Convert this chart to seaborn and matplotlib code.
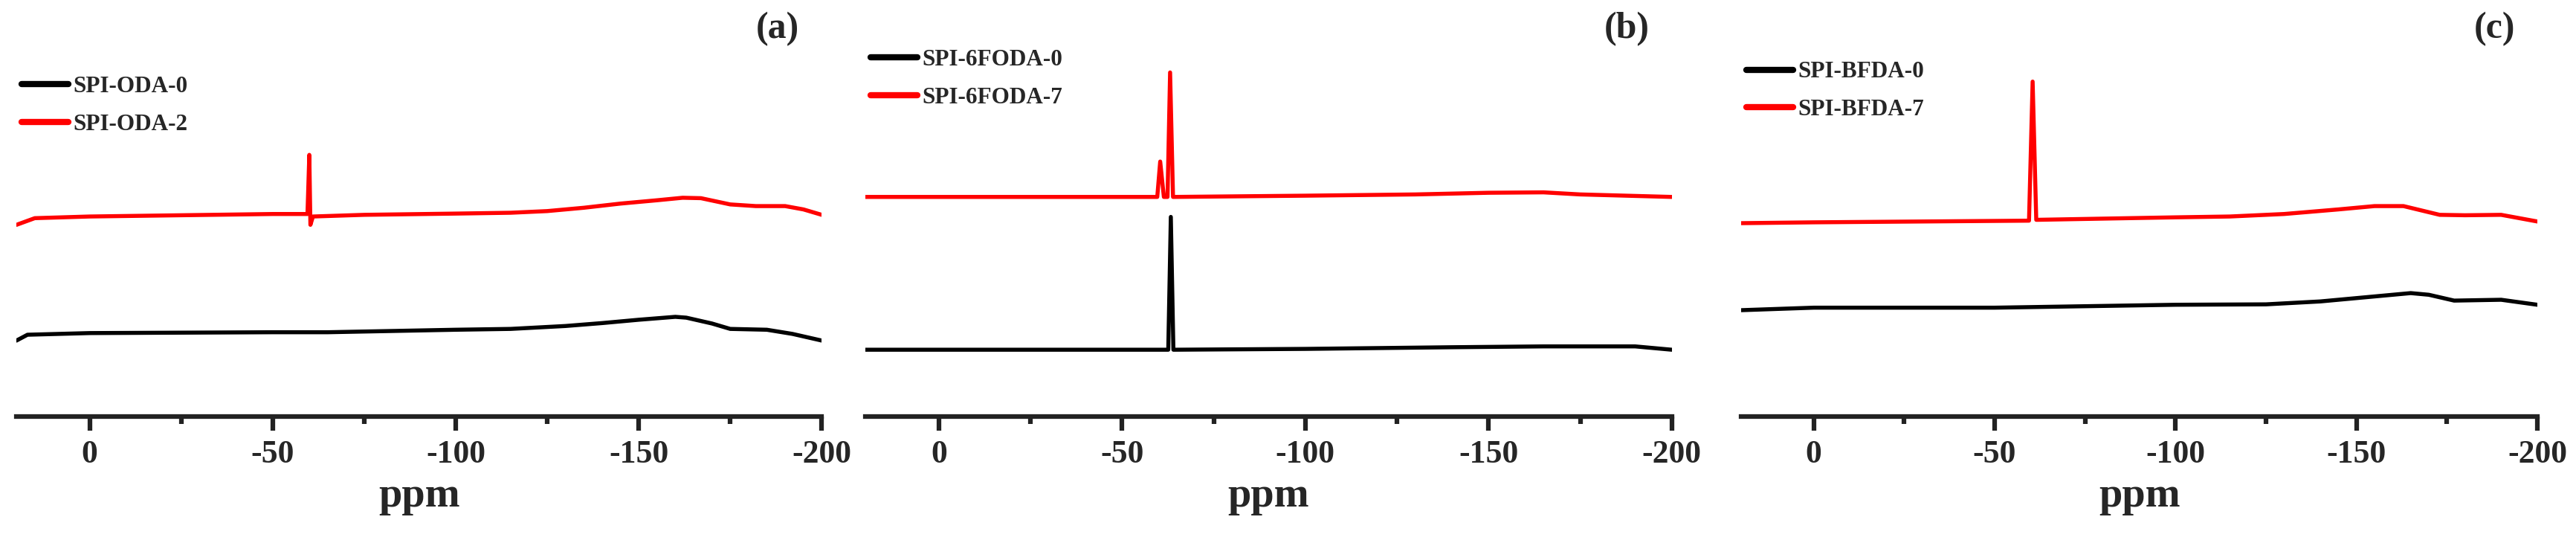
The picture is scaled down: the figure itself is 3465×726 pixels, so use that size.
import numpy as np
import pandas as pd
import matplotlib
matplotlib.use("Agg")
import matplotlib.pyplot as plt
import seaborn as sns
from matplotlib.ticker import MultipleLocator

# (a) SPI-ODA series: chemical shift (ppm) and stacked intensity (a.u.)
oda0_ppm = [20, 17, 0, -50, -65, -100, -115, -130, -140, -150, -160, -163, -170, -175, -185, -192, -200]
oda0_int = [18.2, 19.6, 20.0, 20.2, 20.2, 20.8, 21.0, 21.7, 22.4, 23.2, 23.9, 23.7, 22.3, 21.0, 20.8, 19.8, 18.2]
oda2_ppm = [20, 15, 0, -50, -59.5, -60, -60.3, -61, -75, -100, -115, -125, -135, -145, -155, -162, -167, -175, -182, -190, -195, -200]
oda2_int = [46.0, 47.6, 48.0, 48.6, 48.6, 62.8, 46.0, 48.0, 48.4, 48.7, 48.9, 49.3, 50.1, 51.1, 51.9, 52.5, 52.4, 50.9, 50.5, 50.5, 49.7, 48.4]

# (b) SPI-6FODA series
f0_ppm = [20, 0, -50, -62.6, -63.3, -64, -100, -140, -165, -190, -200]
f0_int = [16.0, 16.0, 16.0, 16.0, 47.9, 16.0, 16.2, 16.6, 16.8, 16.8, 16.0]
f7_ppm = [20, 0, -50, -59.6, -60.4, -61.4, -62.4, -63.1, -63.9, -100, -130, -150, -165, -175, -200]
f7_int = [52.7, 52.7, 52.7, 52.7, 61.2, 52.7, 52.7, 82.6, 52.7, 53.0, 53.3, 53.7, 53.8, 53.3, 52.7]

# (c) SPI-BFDA series
b0_ppm = [20, 0, -50, -100, -125, -140, -155, -165, -170, -177, -190, -200]
b0_int = [25.5, 26.1, 26.1, 26.8, 26.9, 27.6, 28.8, 29.6, 29.2, 27.8, 28.0, 26.8]
b7_ppm = [20, 0, -59.5, -60.5, -61.5, -100, -115, -130, -145, -155, -163, -173, -180, -190, -200]
b7_int = [46.4, 46.6, 47.0, 80.4, 47.2, 47.8, 48.0, 48.6, 49.7, 50.5, 50.5, 48.4, 48.3, 48.4, 46.8]

panels = [
    ("(a)", ["SPI-ODA-0", "SPI-ODA-2"], [(oda0_ppm, oda0_int), (oda2_ppm, oda2_int)]),
    ("(b)", ["SPI-6FODA-0", "SPI-6FODA-7"], [(f0_ppm, f0_int), (f7_ppm, f7_int)]),
    ("(c)", ["SPI-BFDA-0", "SPI-BFDA-7"], [(b0_ppm, b0_int), (b7_ppm, b7_int)]),
]

sns.set_style("white")
plt.rcParams["font.family"] = ["Liberation Serif", "DejaVu Serif"]
plt.rcParams["font.weight"] = "bold"
plt.rcParams["axes.unicode_minus"] = False

fig = plt.figure(figsize=(23.1, 4.84), dpi=150)
lefts = [0.0064, 0.336, 0.676]
widths = [0.3126, 0.313, 0.309]
legend_y = [0.84, 0.905, 0.875]

for i, (tag, names, series) in enumerate(panels):
    ax = fig.add_axes([lefts[i], 0.229, widths[i], 0.771])
    df = pd.concat([pd.DataFrame({"ppm": p, "intensity": v, "sample": n})
                    for n, (p, v) in zip(names, series)], ignore_index=True)
    sns.lineplot(data=df, x="ppm", y="intensity", hue="sample", hue_order=names,
                 palette=["black", "#ff0000"], estimator=None, lw=2.6, ax=ax)
    ax.set_xlim(20, -200)
    ax.set_ylim(0, 100)
    for s in ["top", "right", "left"]:
        ax.spines[s].set_visible(False)
    ax.spines["bottom"].set_linewidth(3)
    ax.spines["bottom"].set_color("#222222")
    ax.set_yticks([])
    ax.set_ylabel("")
    ax.xaxis.set_major_locator(MultipleLocator(50))
    ax.xaxis.set_minor_locator(MultipleLocator(25))
    ax.tick_params(axis="x", which="major", direction="out", length=9, width=3,
                   labelsize=21, bottom=True, color="#222222", pad=6)
    ax.tick_params(axis="x", which="minor", direction="out", length=5, width=3,
                   bottom=True, color="#222222")
    for lab in ax.get_xticklabels():
        lab.set_fontweight("bold")
    ax.set_xlabel("ppm", fontsize=27, fontweight="bold", labelpad=5)
    ax.text(0.972, 0.93, tag, transform=ax.transAxes, ha="right", va="center",
            fontsize=24, fontweight="bold")
    leg = ax.legend(loc="upper left", bbox_to_anchor=(-0.005, legend_y[i]), frameon=False,
                    fontsize=15, handlelength=2.0, handletextpad=0.2, labelspacing=0.7,
                    borderaxespad=0)
    for t in leg.get_texts():
        t.set_fontweight("bold")
    for h in leg.get_lines():
        h.set_linewidth(4)

fig.savefig("out.png", dpi=150, facecolor="white")
